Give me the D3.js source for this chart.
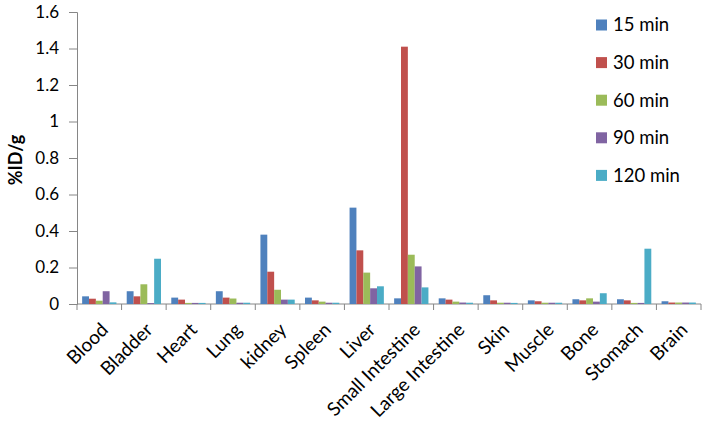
<!DOCTYPE html>
<html>
<head>
<meta charset="utf-8">
<script src="https://cdn.jsdelivr.net/npm/d3@7"></script>
<style>
  body { margin: 0; background: #fff; }
  svg text { font-family: Lato, "Open Sans", sans-serif; fill: #000; }
</style>
</head>
<body>
<svg class="chart" width="706" height="424"></svg>
<script>
const organs = ['Blood', 'Bladder', 'Heart', 'Lung', 'kidney', 'Spleen', 'Liver', 'Small Intestine',
  'Large Intestine', 'Skin', 'Muscle', 'Bone', 'Stomach', 'Brain']
const seriesNames = ['15 min', '30 min', '60 min', '90 min', '120 min']
const colors = ['#4F81BD', '#C0504D', '#9BBB59', '#8064A2', '#4BACC6']
const yTicks = [0, 0.2, 0.4, 0.6, 0.8, 1, 1.2, 1.4, 1.6]

// one array per time point, in organ order
const min15 = [0.042, 0.07, 0.035, 0.07, 0.38, 0.035, 0.528, 0.031, 0.031, 0.048, 0.02, 0.026, 0.026, 0.015]
const min30 = [0.029, 0.042, 0.024, 0.035, 0.177, 0.02, 0.294, 1.41, 0.024, 0.02, 0.015, 0.02, 0.02, 0.008]
const min60 = [0.018, 0.108, 0.006, 0.03, 0.078, 0.013, 0.172, 0.27, 0.013, 0.007, 0.007, 0.031, 0.006, 0.008]
const min90 = [0.07, 0.005, 0.006, 0.007, 0.024, 0.007, 0.086, 0.206, 0.008, 0.007, 0.007, 0.013, 0.006, 0.008]
const min120 = [0.009, 0.248, 0.006, 0.007, 0.024, 0.007, 0.097, 0.091, 0.007, 0.006, 0.007, 0.059, 0.303, 0.008]
const allSeries = [min15, min30, min60, min90, min120]

const svg = d3.select('.chart')
const margin = { top: 12, right: 5, bottom: 120, left: 77 }
const innerW = 701 - margin.left
const innerH = 304 - margin.top

const g = svg.append('g').attr('transform', `translate(${margin.left},${margin.top})`)

const xscale = d3.scaleBand().domain(organs).range([0, innerW])
const inner = d3.scaleBand().domain(seriesNames)
  .range([0, xscale.bandwidth() * 5 / 6.5])
const yscale = d3.scaleLinear().domain([0, 1.6]).range([innerH, 0])

// y axis
const yAxis = d3.axisLeft(yscale).tickValues(yTicks).tickSize(8).tickPadding(10)
  .tickFormat(d => d3.format('')(+d.toFixed(1)))
const ya = g.append('g').call(yAxis)
ya.select('.domain').attr('stroke', '#868686')
ya.selectAll('line').attr('stroke', '#868686')
ya.selectAll('text').style('font-size', '17px')

// x axis line + tick marks at band edges
g.append('line')
  .attr('x1', 0).attr('x2', innerW)
  .attr('y1', innerH).attr('y2', innerH)
  .attr('stroke', '#868686')
g.selectAll('.xtick').data(organs.concat(['end']))
  .enter().append('line')
  .attr('class', 'xtick')
  .attr('x1', (d, i) => i * xscale.step()).attr('x2', (d, i) => i * xscale.step())
  .attr('y1', innerH).attr('y2', innerH + 6)
  .attr('stroke', '#868686')

// bars
const groups = g.selectAll('.grp').data(organs)
  .enter().append('g')
  .attr('class', 'grp')
  .attr('transform', d => `translate(${xscale(d) + xscale.bandwidth() * 0.75 / 6.5},0)`)

groups.selectAll('rect')
  .data((d, i) => allSeries.map((s, k) => ({ name: seriesNames[k], v: s[i], c: colors[k] })))
  .enter().append('rect')
  .attr('x', d => inner(d.name))
  .attr('width', inner.bandwidth())
  .attr('y', d => yscale(d.v))
  .attr('height', d => innerH - yscale(d.v))
  .attr('fill', d => d.c)

// category labels
g.selectAll('.xlab').data(organs)
  .enter().append('text')
  .attr('class', 'xlab')
  .attr('text-anchor', 'end')
  .style('font-size', '19px')
  .attr('transform', d => `translate(${xscale(d) + xscale.bandwidth() / 2 + 10},${innerH + 27}) rotate(-45)`)
  .text(d => d)

// y title
svg.append('text')
  .attr('transform', 'translate(22,160) rotate(-90)')
  .attr('text-anchor', 'middle')
  .style('font-size', '18px')
  .style('font-weight', 'bold')
  .text('%ID/g')

// legend
const legend = svg.append('g').attr('transform', 'translate(596,0)')
seriesNames.forEach((s, i) => {
  const y = 25 + i * 37.6
  legend.append('rect')
    .attr('x', 0).attr('y', y - 5.5)
    .attr('width', 11).attr('height', 11)
    .attr('fill', colors[i])
  legend.append('text')
    .attr('x', 17).attr('y', y)
    .attr('dy', '0.35em')
    .style('font-size', '18.5px')
    .text(s)
})
</script>
</body>
</html>
